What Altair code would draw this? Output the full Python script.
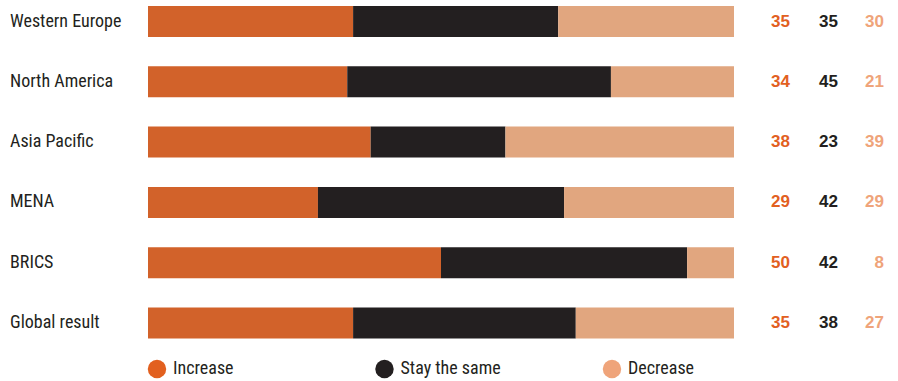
import altair as alt
import pandas as pd

regions = ["Western Europe", "North America", "Asia Pacific", "MENA", "BRICS", "Global result"]
increase = [35, 34, 38, 29, 50, 35]
stay = [35, 45, 23, 42, 42, 38]
decrease = [30, 21, 39, 29, 8, 27]
categories = ["Increase", "Stay the same", "Decrease"]

bar_colors = ["#D2622A", "#231F20", "#E1A67F"]
num_colors = ["#E2601F", "#231F20", "#EFA47A"]
LABEL_FONT = "Liberation Sans Narrow, Roboto Condensed, DejaVu Sans Condensed, sans-serif"
NUM_FONT = "Liberation Sans, Arial, sans-serif"

rows = []
for i, r in enumerate(regions):
    vals = [increase[i], stay[i], decrease[i]]
    start = 0
    for c, v in zip(categories, vals):
        rows.append({"region": r, "idx": i, "cat": c, "start": start, "end": start + v, "value": v})
        start += v
df = pd.DataFrame(rows)
wide = pd.DataFrame({"region": regions, "idx": list(range(len(regions))),
                     "inc": increase, "stay": stay, "dec": decrease})
leg = pd.DataFrame({"cat": categories, "li": list(range(len(categories)))})

yq = alt.Y("idx:Q", scale=alt.Scale(domain=[0, 5], range=[21.5, 323], padding=0, nice=False, zero=False), axis=None)

bars = alt.Chart(df).mark_bar(orient="horizontal", height=31).encode(
    x=alt.X("start:Q", scale=alt.Scale(domain=[0, 100], range=[148, 734], padding=0, nice=False), axis=None),
    x2="end:Q",
    y=yq,
    color=alt.Color("cat:N", scale=alt.Scale(domain=categories, range=bar_colors), legend=None),
)

labels = alt.Chart(wide).mark_text(align="left", baseline="middle", font=LABEL_FONT,
                                   fontSize=18, color="#231F20").encode(
    x=alt.value(10), y=yq, text="region:N")

def numcol(field, xpos, color):
    return alt.Chart(wide).mark_text(align="right", baseline="middle", font=NUM_FONT,
                                     fontSize=17, fontWeight="bold", color=color).encode(
        x=alt.value(xpos), y=yq, text=f"{field}:Q")

n1 = numcol("inc", 790, num_colors[0])
n2 = numcol("stay", 838, num_colors[1])
n3 = numcol("dec", 884, num_colors[2])

legx = alt.X("li:Q", scale=alt.Scale(domain=[0, 2], range=[157, 612], padding=0, nice=False, zero=False), axis=None)
leg_pts = alt.Chart(leg).mark_point(filled=True, shape="circle", size=340, opacity=1).encode(
    x=legx, y=alt.value(369),
    color=alt.Color("cat:N", scale=alt.Scale(domain=categories, range=num_colors), legend=None),
)
leg_txt = alt.Chart(leg).mark_text(align="left", baseline="middle", dx=16, font=LABEL_FONT,
                                   fontSize=18, color="#231F20").encode(
    x=legx, y=alt.value(369), text="cat:N")

main = alt.layer(bars, labels, n1, n2, n3)
legend = alt.layer(leg_pts, leg_txt)

chart = alt.layer(main, legend).resolve_scale(x="independent", color="independent").properties(
    width=898, height=381, padding=0, autosize=alt.AutoSizeParams(type="none")
).configure_view(stroke=None)

chart.save("out.html", embed_options={"renderer": "svg", "actions": False})
